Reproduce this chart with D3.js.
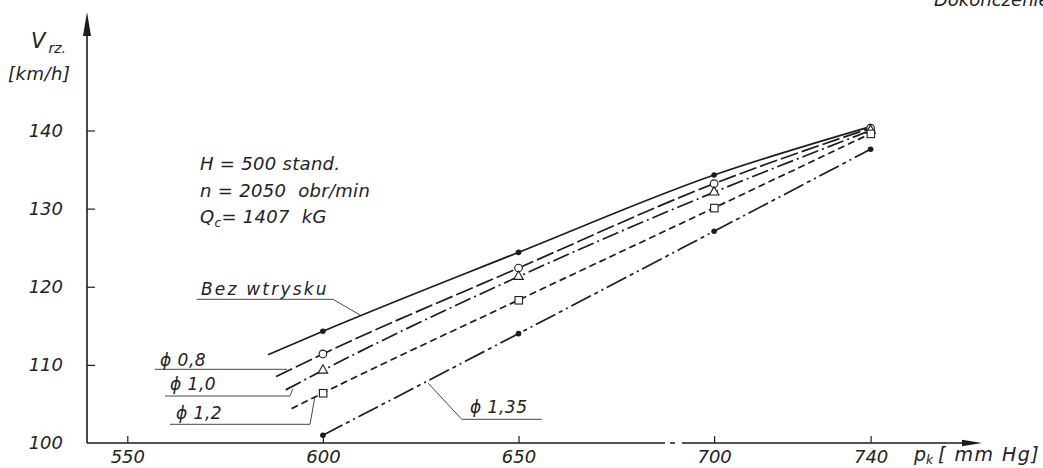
<!DOCTYPE html>
<html>
<head>
<meta charset="utf-8">
<script src="https://cdn.jsdelivr.net/npm/d3@7"></script>
<style>
  html, body { margin: 0; padding: 0; background: #fff; }
  svg { display: block; }
  text { font-family: "DejaVu Sans", sans-serif; font-style: italic; fill: #222; white-space: pre; }
</style>
</head>
<body>
<svg id="chart" width="1043" height="468"></svg>
<script>
// ---- data ----
const pressures = [600, 650, 700, 740];
const seriesNames = ["Bez wtrysku", "ϕ 0,8", "ϕ 1,0", "ϕ 1,2", "ϕ 1,35"];
const vBez = [114.3, 124.4, 134.3, 140.5];
const v08  = [111.4, 122.4, 133.2, 140.3];
const v10  = [109.3, 121.3, 132.1, 140.0];
const v12  = [106.4, 118.3, 130.1, 139.6];
const v135 = [101.0, 114.0, 127.1, 137.6];
// where each drawn line begins (left of the first measured point)
const startP = [586, 588, 590.5, 592, 600];
const startV = [111.3, 108.5, 106.8, 104.4, 101.0];
const xTicks = [550, 600, 650, 700, 740];
const yTicks = [100, 110, 120, 130, 140];
const notes = ["H = 500 stand.", "n = 2050  obr/min", "= 1407  kG"];

// ---- styles ----
const seriesValues = [vBez, v08, v10, v12, v135];
const dashes = [null, "18,4", "17,4,2,4", "7,4", "22,4,4,4,2,4"];
const markerKinds = ["dot", "circle", "triangle", "square", "dot"];
const ink = "#1c1c1c";

const svg = d3.select("#chart");
const x = d3.scaleLinear().domain([550, 740]).range([127.3, 870.6]);
const y = d3.scaleLinear().domain([100, 140]).range([443, 130.5]);

// ---- axes ----
const xAxis = d3.axisBottom(x).tickValues(xTicks).tickSizeInner(-7).tickSizeOuter(0).tickPadding(7);
const gx = svg.append("g").attr("transform", `translate(0,${y(100)})`).call(xAxis);
gx.select(".domain").remove();
gx.selectAll(".tick line").attr("stroke", ink).attr("stroke-width", 1.2);
gx.selectAll(".tick text").attr("font-size", 18).attr("font-family", "DejaVu Sans").attr("fill", "#222").attr("font-style", "italic");

const yAxis = d3.axisLeft(y).tickValues(yTicks).tickSizeInner(-8).tickSizeOuter(0).tickPadding(24);
const gy = svg.append("g").attr("transform", `translate(87,0)`).call(yAxis);
gy.select(".domain").remove();
gy.selectAll(".tick line").attr("stroke", ink).attr("stroke-width", 1.2).filter(d => d === 100).remove();
gy.selectAll(".tick text").attr("font-size", 18).attr("font-family", "DejaVu Sans").attr("fill", "#222").attr("font-style", "italic");

// axis lines with arrowheads
const ox = 87, oy = y(100);
svg.append("line").attr("x1", ox).attr("y1", oy).attr("x2", 965).attr("y2", oy)
  .attr("stroke", ink).attr("stroke-width", 1.6).attr("stroke-dasharray", "578,5,5,7,400");
svg.append("path").attr("d", `M962,${oy-3.2} L982,${oy} L962,${oy+3.2} Z`).attr("fill", ink);
svg.append("line").attr("x1", ox).attr("y1", oy).attr("x2", ox).attr("y2", 32)
  .attr("stroke", ink).attr("stroke-width", 1.6);
svg.append("path").attr("d", `M${ox-4},36 L${ox},12 L${ox+4},36 Z`).attr("fill", ink);

// axis titles
const yt = svg.append("text").attr("x", 31).attr("y", 48).attr("font-size", 21);
yt.append("tspan").text("V");
yt.append("tspan").attr("font-size", 14).attr("dy", 5).attr("dx", 3).text("rz.");
svg.append("text").attr("x", 8).attr("y", 80).attr("font-size", 18).attr("letter-spacing", 0.5).text("[km/h]");
const xt = svg.append("text").attr("x", 914).attr("y", 461).attr("font-size", 19);
xt.append("tspan").text("p");
xt.append("tspan").attr("font-size", 12).attr("dy", 3).text("k");
xt.append("tspan").attr("dy", -3).attr("dx", 5).attr("letter-spacing", 1.5).text("[ mm Hg]");

// faded caption cut at the top edge
svg.append("text").attr("x", 934).attr("y", 6).attr("font-size", 18).attr("fill", "#555").text("Dokończenie");

// ---- series ----
const line = d3.line().x(d => x(d[0])).y(d => y(d[1])).curve(d3.curveMonotoneX);
seriesValues.forEach((vals, i) => {
  const pts = [[startP[i], startV[i]]].concat(pressures.map((p, j) => [p, vals[j]]))
    .filter((d, k, arr) => k === 0 || d[0] !== arr[0][0]);
  svg.append("path").attr("d", line(pts)).attr("fill", "none").attr("stroke", ink)
    .attr("stroke-width", 1.7).attr("stroke-dasharray", dashes[i]);
});

// markers
seriesValues.forEach((vals, i) => {
  pressures.forEach((p, j) => {
    const cx = x(p), cy = y(vals[j]);
    const k = markerKinds[i];
    if (k === "dot") {
      svg.append("circle").attr("cx", cx).attr("cy", cy).attr("r", 2.8).attr("fill", ink);
    } else if (k === "circle") {
      svg.append("circle").attr("cx", cx).attr("cy", cy).attr("r", 3.8).attr("fill", "#fff").attr("stroke", ink).attr("stroke-width", 1.1);
    } else if (k === "triangle") {
      svg.append("path").attr("d", d3.symbol(d3.symbolTriangle, 40)()).attr("transform", `translate(${cx},${cy})`)
        .attr("fill", "#fff").attr("stroke", ink).attr("stroke-width", 1.1);
    } else if (k === "square") {
      svg.append("rect").attr("x", cx - 3.5).attr("y", cy - 3.5).attr("width", 7.5).attr("height", 7.5)
        .attr("fill", "#fff").attr("stroke", ink).attr("stroke-width", 1.1);
    }
  });
});

// ---- series labels with leader lines ----
const labelGeo = [
  { tx: 201, ty: 295, pts: [[196.7, 299.3], [333, 299.3], [360, 315]], ls: 2.2 },
  { tx: 160, ty: 366, pts: [[155, 369.3], [287, 369.3]], ls: 0.5 },
  { tx: 170, ty: 390, pts: [[165, 396], [290, 396], [292.7, 389]], ls: 0.5 },
  { tx: 176, ty: 419, pts: [[170, 424.3], [310, 424.3], [315, 396]], ls: 0.5 },
  { tx: 470, ty: 413, pts: [[428.3, 383.3], [461.7, 419.3], [541.7, 419.3]], ls: 0.5 }
];
seriesNames.forEach((name, i) => {
  const g = labelGeo[i];
  svg.append("text").attr("x", g.tx).attr("y", g.ty).attr("font-size", 17)
    .attr("letter-spacing", g.ls).text(name);
  svg.append("path").attr("d", d3.line()(g.pts)).attr("fill", "none")
    .attr("stroke", "#333").attr("stroke-width", 0.9);
});

// ---- conditions note ----
const nt = svg.append("g");
nt.append("text").attr("x", 200).attr("y", 170).attr("font-size", 18).attr("letter-spacing", 0.3).text(notes[0]);
nt.append("text").attr("x", 200).attr("y", 197).attr("font-size", 18).attr("letter-spacing", 0.3).text(notes[1]);
const q = nt.append("text").attr("x", 200).attr("y", 223).attr("font-size", 18).attr("letter-spacing", 0.3);
q.append("tspan").text("Q");
q.append("tspan").attr("font-size", 12).attr("dy", 4).text("c");
q.append("tspan").attr("dy", -4).text(notes[2]);
</script>
</body>
</html>
